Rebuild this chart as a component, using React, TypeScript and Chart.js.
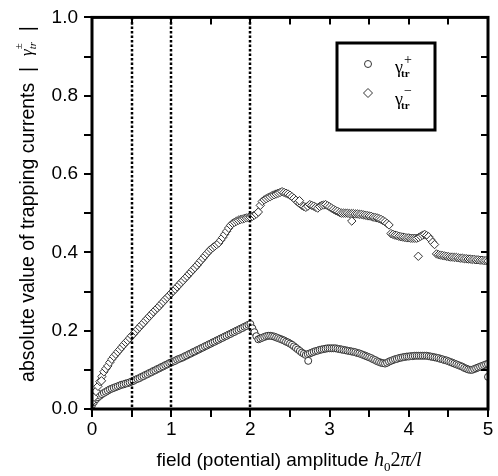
import React, { useEffect, useRef } from 'react';
import { Chart, registerables } from 'chart.js';

Chart.register(...registerables);

// field amplitude h0*2*pi/l
const xValues = [
  0, 0.025, 0.05, 0.075, 0.1, 0.125, 0.15, 0.175,
  0.2, 0.225, 0.25, 0.275, 0.3, 0.325, 0.35, 0.375,
  0.4, 0.425, 0.45, 0.475, 0.5, 0.525, 0.55, 0.575,
  0.6, 0.625, 0.65, 0.675, 0.7, 0.725, 0.75, 0.775,
  0.8, 0.825, 0.85, 0.875, 0.9, 0.925, 0.95, 0.975,
  1, 1.025, 1.05, 1.075, 1.1, 1.125, 1.15, 1.175,
  1.2, 1.225, 1.25, 1.275, 1.3, 1.325, 1.35, 1.375,
  1.4, 1.425, 1.45, 1.475, 1.5, 1.525, 1.55, 1.575,
  1.6, 1.625, 1.65, 1.675, 1.7, 1.725, 1.75, 1.775,
  1.8, 1.825, 1.85, 1.875, 1.9, 1.925, 1.95, 1.975,
  2, 2.025, 2.05, 2.075, 2.1, 2.125, 2.15, 2.175,
  2.2, 2.225, 2.25, 2.275, 2.3, 2.325, 2.35, 2.375,
  2.4, 2.425, 2.45, 2.475, 2.5, 2.525, 2.55, 2.575,
  2.6, 2.625, 2.65, 2.675, 2.7, 2.725, 2.75, 2.775,
  2.8, 2.825, 2.85, 2.875, 2.9, 2.925, 2.95, 2.975,
  3, 3.025, 3.05, 3.075, 3.1, 3.125, 3.15, 3.175,
  3.2, 3.225, 3.25, 3.275, 3.3, 3.325, 3.35, 3.375,
  3.4, 3.425, 3.45, 3.475, 3.5, 3.525, 3.55, 3.575,
  3.6, 3.625, 3.65, 3.675, 3.7, 3.725, 3.75, 3.775,
  3.8, 3.825, 3.85, 3.875, 3.9, 3.925, 3.95, 3.975,
  4, 4.025, 4.05, 4.075, 4.1, 4.125, 4.15, 4.175,
  4.2, 4.225, 4.25, 4.275, 4.3, 4.325, 4.35, 4.375,
  4.4, 4.425, 4.45, 4.475, 4.5, 4.525, 4.55, 4.575,
  4.6, 4.625, 4.65, 4.675, 4.7, 4.725, 4.75, 4.775,
  4.8, 4.825, 4.85, 4.875, 4.9, 4.925, 4.95, 4.975,
  5,
];

// |gamma_tr^-|
const gammaMinus = [
  0.018, 0.03, 0.045, 0.058, 0.07, 0.083, 0.095, 0.103,
  0.11, 0.119, 0.127, 0.134, 0.14, 0.146, 0.152, 0.158,
  0.164, 0.17, 0.175, 0.181, 0.187, 0.192, 0.198, 0.204,
  0.209, 0.215, 0.22, 0.226, 0.231, 0.237, 0.242, 0.248,
  0.253, 0.258, 0.263, 0.269, 0.274, 0.28, 0.285, 0.29,
  0.296, 0.301, 0.306, 0.312, 0.317, 0.323, 0.328, 0.334,
  0.339, 0.345, 0.35, 0.356, 0.361, 0.367, 0.373, 0.379,
  0.385, 0.391, 0.397, 0.403, 0.408, 0.412, 0.416, 0.42,
  0.424, 0.431, 0.438, 0.446, 0.454, 0.462, 0.469, 0.474,
  0.477, 0.48, 0.482, 0.484, 0.485, 0.487, 0.488, 0.489,
  0.49, 0.492, 0.495, 0.498, 0.503, 0.52, 0.53, 0.534,
  0.537, 0.54, 0.542, 0.545, 0.547, 0.549, 0.551, 0.553,
  0.555, 0.553, 0.551, 0.549, 0.546, 0.542, 0.538, 0.533,
  0.528, 0.524, 0.52, 0.517, 0.515, 0.518, 0.522, 0.52,
  0.518, 0.515, 0.513, 0.517, 0.52, 0.521, 0.522, 0.519,
  0.516, 0.513, 0.51, 0.507, 0.505, 0.502, 0.5, 0.5,
  0.5, 0.5, 0.499, 0.499, 0.499, 0.498, 0.498, 0.497,
  0.497, 0.496, 0.495, 0.494, 0.493, 0.492, 0.49, 0.489,
  0.488, 0.486, 0.484, 0.481, 0.478, 0.474, 0.47, 0.448,
  0.446, 0.444, 0.443, 0.441, 0.44, 0.439, 0.438, 0.437,
  0.437, 0.436, 0.436, 0.436, 0.436, 0.438, 0.441, 0.444,
  0.446, 0.443, 0.44, 0.433, 0.426, 0.42, 0.396, 0.394,
  0.393, 0.392, 0.391, 0.39, 0.389, 0.388, 0.388, 0.387,
  0.387, 0.386, 0.385, 0.385, 0.384, 0.384, 0.383, 0.383,
  0.382, 0.382, 0.381, 0.381, 0.38, 0.38, 0.379, 0.379,
  0.378,
];

// |gamma_tr^+|
const gammaPlus = [
  0.01, 0.018, 0.025, 0.03, 0.034, 0.038, 0.041, 0.044,
  0.047, 0.05, 0.052, 0.054, 0.056, 0.058, 0.06, 0.062,
  0.063, 0.065, 0.066, 0.068, 0.07, 0.072, 0.075, 0.077,
  0.079, 0.082, 0.084, 0.087, 0.089, 0.092, 0.094, 0.097,
  0.099, 0.102, 0.104, 0.107, 0.109, 0.112, 0.114, 0.117,
  0.119, 0.121, 0.123, 0.126, 0.128, 0.13, 0.132, 0.135,
  0.137, 0.14, 0.142, 0.145, 0.147, 0.15, 0.152, 0.155,
  0.157, 0.16, 0.162, 0.165, 0.167, 0.17, 0.172, 0.175,
  0.177, 0.18, 0.182, 0.185, 0.187, 0.19, 0.192, 0.195,
  0.197, 0.2, 0.202, 0.205, 0.207, 0.21, 0.212, 0.215,
  0.217, 0.206, 0.196, 0.186, 0.178, 0.18, 0.182, 0.184,
  0.186, 0.187, 0.187, 0.186, 0.185, 0.183, 0.181, 0.179,
  0.177, 0.175, 0.172, 0.17, 0.167, 0.164, 0.16, 0.156,
  0.152, 0.148, 0.144, 0.141, 0.138, 0.14, 0.142, 0.144,
  0.146, 0.148, 0.149, 0.151, 0.152, 0.153, 0.154, 0.155,
  0.155, 0.155, 0.155, 0.155, 0.154, 0.153, 0.152, 0.151,
  0.15, 0.149, 0.148, 0.147, 0.146, 0.145, 0.143, 0.142,
  0.14, 0.138, 0.136, 0.134, 0.132, 0.13, 0.127, 0.125,
  0.122, 0.12, 0.118, 0.117, 0.116, 0.118, 0.121, 0.123,
  0.125, 0.127, 0.128, 0.13, 0.131, 0.132, 0.133, 0.134,
  0.134, 0.135, 0.135, 0.136, 0.136, 0.136, 0.136, 0.136,
  0.136, 0.136, 0.135, 0.134, 0.133, 0.132, 0.131, 0.13,
  0.128, 0.127, 0.125, 0.124, 0.122, 0.12, 0.118, 0.116,
  0.114, 0.112, 0.11, 0.108, 0.105, 0.103, 0.101, 0.1,
  0.1, 0.102, 0.104, 0.106, 0.108, 0.11, 0.112, 0.114,
  0.115,
];

// isolated points
const minusOutlierX = [0.12, 2.62, 3.28, 4.12];
const minusOutlierY = [0.072, 0.532, 0.48, 0.39];
const plusOutlierX = [2.73, 5.0];
const plusOutlierY = [0.123, 0.082];

const markerLines = [0.5, 1, 2];
const xLabelValues = [0, 1, 2, 3, 4, 5];
const yLabelValues = ['0.0', '0.2', '0.4', '0.6', '0.8', '1.0'];

const SANS = '"Liberation Sans", Arial, sans-serif';
const SERIF = '"Liberation Serif", "Times New Roman", serif';

type Part = { t: string; font: string; dy: number };

function drawParts(ctx: CanvasRenderingContext2D, parts: Part[], x: number, y: number) {
  let cx = x;
  for (const p of parts) {
    ctx.font = p.font;
    ctx.fillText(p.t, cx, y + p.dy);
    cx += ctx.measureText(p.t).width;
  }
  return cx;
}
function partsWidth(ctx: CanvasRenderingContext2D, parts: Part[]) {
  let w = 0;
  for (const p of parts) {
    ctx.font = p.font;
    w += ctx.measureText(p.t).width;
  }
  return w;
}

const decorPlugin = {
  id: 'decor',
  afterDatasetsDraw(chart: any) {
    const ctx: CanvasRenderingContext2D = chart.ctx;
    const { left, right, top, bottom } = chart.chartArea;
    const xs = chart.scales.x;
    const ys = chart.scales.y;
    ctx.save();
    // dotted vertical lines
    ctx.strokeStyle = '#000';
    ctx.lineWidth = 2.5;
    ctx.setLineDash([2.5, 2]);
    for (const v of markerLines) {
      const px = Math.round(xs.getPixelForValue(v));
      ctx.beginPath();
      ctx.moveTo(px, top);
      ctx.lineTo(px, bottom);
      ctx.stroke();
    }
    ctx.setLineDash([]);
    // frame
    ctx.lineWidth = 3;
    ctx.strokeRect(left, top, right - left, bottom - top);
    ctx.lineWidth = 2;
    // inward ticks top
    for (let i = 1; i < 10; i++) {
      const px = Math.round(xs.getPixelForValue(i * 0.5));
      ctx.beginPath();
      ctx.moveTo(px, top);
      ctx.lineTo(px, top + 7);
      ctx.stroke();
    }
    // inward ticks right
    for (let i = 1; i < 10; i++) {
      const py = Math.round(ys.getPixelForValue(i * 0.1));
      ctx.beginPath();
      ctx.moveTo(right, py);
      ctx.lineTo(right - 7, py);
      ctx.stroke();
    }
    ctx.restore();
  },
  afterDraw(chart: any) {
    const ctx: CanvasRenderingContext2D = chart.ctx;
    ctx.save();
    ctx.fillStyle = '#000';
    ctx.textBaseline = 'alphabetic';
    ctx.textAlign = 'left';

    // legend box
    ctx.strokeStyle = '#000';
    ctx.lineWidth = 3;
    ctx.strokeRect(337, 43, 98, 87);
    // legend markers
    ctx.lineWidth = 1;
    ctx.strokeStyle = '#333';
    ctx.fillStyle = '#fff';
    ctx.beginPath();
    ctx.arc(368, 64, 3.5, 0, Math.PI * 2);
    ctx.fill();
    ctx.stroke();
    ctx.beginPath();
    ctx.moveTo(368, 93 - 4.5);
    ctx.lineTo(372.5, 93);
    ctx.lineTo(368, 93 + 4.5);
    ctx.lineTo(363.5, 93);
    ctx.closePath();
    ctx.fill();
    ctx.stroke();
    ctx.fillStyle = '#000';
    const g = `18px ${SERIF}`;
    const sub = `bold 11px ${SERIF}`;
    const sup = `14px ${SERIF}`;
    ctx.font = g;
    ctx.fillText('γ', 395, 73);
    ctx.font = sub;
    ctx.fillText('tr', 401, 77);
    ctx.font = sup;
    ctx.fillText('+', 404, 64);
    ctx.font = g;
    ctx.fillText('γ', 395, 105);
    ctx.font = sub;
    ctx.fillText('tr', 401, 109);
    ctx.font = sup;
    ctx.fillText('−', 404, 95);

    // x title
    const xParts: Part[] = [
      { t: 'field (potential) amplitude ', font: `19px ${SANS}`, dy: 0 },
      { t: 'h', font: `italic 20px ${SERIF}`, dy: 0 },
      { t: '0', font: `13px ${SERIF}`, dy: 5 },
      { t: '2', font: `20px ${SERIF}`, dy: 0 },
      { t: 'π/l', font: `italic 20px ${SERIF}`, dy: 0 },
    ];
    const xw = partsWidth(ctx, xParts);
    drawParts(ctx, xParts, 289 - xw / 2, 466);

    // y title (rotated)
    const main = 'absolute value of trapping currents  |  ';
    const mainFont = `19.5px ${SANS}`;
    const gFont = `italic 17px ${SERIF}`;
    const smallFont = `italic 11px ${SERIF}`;
    const supFont = `11px ${SERIF}`;
    ctx.translate(34, 204);
    ctx.rotate(-Math.PI / 2);
    ctx.font = mainFont;
    const w0 = ctx.measureText(main).width;
    ctx.font = gFont;
    const w1 = ctx.measureText('γ').width;
    ctx.font = smallFont;
    const w2 = ctx.measureText('tr').width;
    ctx.font = mainFont;
    const w3 = ctx.measureText('  |').width;
    let cx = -(w0 + w1 + w2 + w3) / 2;
    ctx.font = mainFont;
    ctx.fillText(main, cx, 0);
    cx += w0;
    ctx.font = gFont;
    ctx.fillText('γ', cx, -2);
    cx += w1;
    ctx.font = supFont;
    ctx.fillText('±', cx, -12);
    ctx.font = smallFont;
    ctx.fillText('tr', cx, 2);
    cx += w2;
    ctx.font = mainFont;
    ctx.fillText('  |', cx, 0);
    ctx.restore();
  },
};

export default function App() {
  const ref = useRef<HTMLCanvasElement | null>(null);
  useEffect(() => {
    if (!ref.current) return;
    const minusData = xValues.map((x, i) => ({ x, y: gammaMinus[i] }))
      .concat(minusOutlierX.map((x, i) => ({ x, y: minusOutlierY[i] })));
    const plusData = xValues.map((x, i) => ({ x, y: gammaPlus[i] }))
      .concat(plusOutlierX.map((x, i) => ({ x, y: plusOutlierY[i] })));
    const chart = new Chart(ref.current, {
      type: 'scatter',
      data: {
        datasets: [
          {
            label: 'γtr-',
            data: minusData,
            pointStyle: 'rectRot',
            pointRadius: 4.2,
            borderColor: '#333',
            backgroundColor: '#ffffff',
            borderWidth: 1,
          },
          {
            label: 'γtr+',
            data: plusData,
            pointStyle: 'circle',
            pointRadius: 3.5,
            borderColor: '#333',
            backgroundColor: '#ffffff',
            borderWidth: 1,
          },
        ],
      },
      options: {
        responsive: false,
        animation: false,
        devicePixelRatio: 1,
        layout: { padding: { left: 0, top: 13, right: 10, bottom: 0 } },
        plugins: { legend: { display: false }, tooltip: { enabled: false } },
        scales: {
          x: {
            type: 'linear',
            min: 0,
            max: 5,
            afterFit: (s: any) => { s.height = 67; },
            border: { display: false },
            grid: { drawOnChartArea: false, drawTicks: true, tickLength: 8, color: '#000', lineWidth: 2 },
            ticks: {
              stepSize: 0.5,
              padding: 1,
              color: '#000',
              font: { family: SANS, size: 19 },
              maxRotation: 0,
              callback: (v: any) => {
                const n = Number(v);
                return xLabelValues.includes(n) ? String(n) : '';
              },
            },
          },
          y: {
            type: 'linear',
            min: 0,
            max: 1,
            afterFit: (s: any) => { s.width = 92; },
            border: { display: false },
            grid: { drawOnChartArea: false, drawTicks: true, tickLength: 8, color: '#000', lineWidth: 2 },
            ticks: {
              stepSize: 0.1,
              padding: 6,
              color: '#000',
              font: { family: SANS, size: 19 },
              callback: (v: any) => {
                const k = Math.round(Number(v) * 10);
                return k % 2 === 0 ? yLabelValues[k / 2] : '';
              },
            },
          },
        },
      },
      plugins: [decorPlugin],
    });
    return () => chart.destroy();
  }, []);
  return (
    <div style={{ position: 'absolute', left: 0, top: 0, width: 498, height: 476, background: '#fff' }}>
      <canvas ref={ref} width={498} height={476} />
    </div>
  );
}
